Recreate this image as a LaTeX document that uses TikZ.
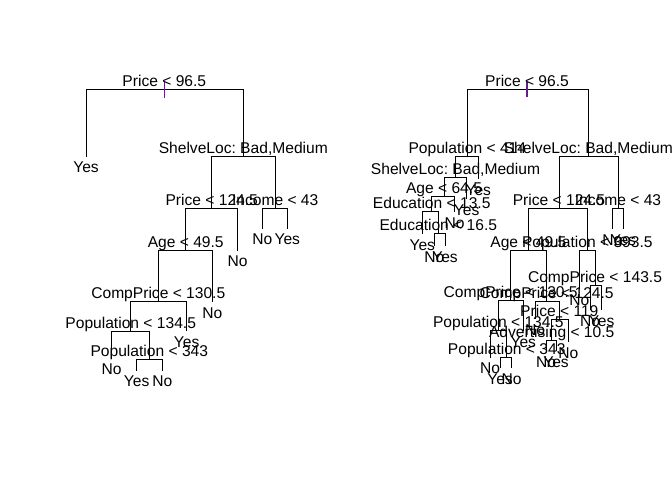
\documentclass[tikz,border=0pt]{standalone}
\usepackage{fontspec}
\setmainfont{Liberation Sans}
\newcommand\treefont{\fontsize{15.6}{18}\selectfont\frenchspacing}
\definecolor{ticklila}{RGB}{100,30,140}
\begin{document}
\begin{tikzpicture}[x=1pt,y=-1pt,line width=1pt,
  split/.style={anchor=base,inner sep=0pt,font=\treefont,yshift=3pt},
  leaf/.style={anchor=base,inner sep=0pt,font=\treefont,yshift=-16pt},
  branch/.style={draw=black,line width=1pt},
  rootmark/.style={draw=ticklila,line width=1.2pt}]
\useasboundingbox (0,0) rectangle (672,480);
% ---------------- left tree ----------------
\coordinate (a0) at (164.3,89.3);
\coordinate (a1) at (86,156.5);
\coordinate (a2) at (243.3,156.7);
\coordinate (a3) at (211.7,208.3);
\coordinate (a4) at (275.2,208.3);
\coordinate (a5) at (237.7,250.7);
\coordinate (a6) at (185.7,250.7);
\coordinate (a7) at (262.3,228.8);
\coordinate (a8) at (287.3,228.8);
\coordinate (a9) at (158.3,301.7);
\coordinate (a10) at (212.3,302);
\coordinate (a11) at (130.7,331.7);
\coordinate (a12) at (186.7,331);
\coordinate (a13) at (111.7,358.5);
\coordinate (a14) at (149.3,359);
\coordinate (a15) at (136.7,370.7);
\coordinate (a16) at (162.3,370.7);
\path[branch] (a0) -| (a1) (a0) -| (a2)
  (a2) -| (a3) (a2) -| (a4)
  (a3) -| (a6) (a3) -| (a5)
  (a4) -| (a7) (a4) -| (a8)
  (a6) -| (a9) (a6) -| (a10)
  (a9) -| (a11) (a9) -| (a12)
  (a11) -| (a13) (a11) -| (a14)
  (a14) -| (a15) (a14) -| (a16);
\draw[rootmark] ([yshift=7.5pt]a0) -- ([yshift=-8.5pt]a0);
\node[split] (a0t) at (a0) {Price < 96.5};
\node[leaf] (a1t) at (a1) {Yes};
\node[split] (a2t) at (a2) {ShelveLoc: Bad,Medium};
\node[split] (a3t) at (a3) {Price < 124.5};
\node[split] (a4t) at (a4) {Income < 43};
\node[leaf] (a5t) at (a5) {No};
\node[split] (a6t) at (a6) {Age < 49.5};
\node[leaf] (a7t) at (a7) {No};
\node[leaf] (a8t) at (a8) {Yes};
\node[split] (a9t) at (a9) {CompPrice < 130.5};
\node[leaf] (a10t) at (a10) {No};
\node[split] (a11t) at (a11) {Population < 134.5};
\node[leaf] (a12t) at (a12) {Yes};
\node[leaf] (a13t) at (a13) {No};
\node[split] (a14t) at (a14) {Population < 343};
\node[leaf] (a15t) at (a15) {Yes};
\node[leaf] (a16t) at (a16) {No};
% ---------------- right tree ----------------
\coordinate (b0) at (527,89);
\coordinate (b1) at (467.3,156);
\coordinate (b2) at (588.3,156);
\coordinate (b3) at (455.5,177.5);
\coordinate (b4) at (478.3,179);
\coordinate (b5) at (444,196.7);
\coordinate (b6) at (466.7,199);
\coordinate (b7) at (431.7,211.7);
\coordinate (b8) at (454.5,212);
\coordinate (b9) at (422.3,234);
\coordinate (b10) at (438.3,233.3);
\coordinate (b11) at (434.3,246);
\coordinate (b12) at (445,246);
\coordinate (b13) at (559,208.3);
\coordinate (b14) at (618,208.3);
\coordinate (b15) at (612.3,229);
\coordinate (b16) at (623.3,229);
\coordinate (b17) at (528.3,250);
\coordinate (b18) at (587.3,250);
\coordinate (b19) at (510.7,300.5);
\coordinate (b20) at (546.7,301);
\coordinate (b21) at (579.3,289);
\coordinate (b22) at (595,285);
\coordinate (b23) at (590,310);
\coordinate (b24) at (601.7,310);
\coordinate (b25) at (498.3,330.5);
\coordinate (b26) at (523.3,331);
\coordinate (b27) at (535,319);
\coordinate (b28) at (559.3,319);
\coordinate (b29) at (490,357.5);
\coordinate (b30) at (506.7,357);
\coordinate (b31) at (500,368);
\coordinate (b32) at (511.7,368);
\coordinate (b33) at (551.7,340);
\coordinate (b34) at (568.3,342);
\coordinate (b35) at (546,351);
\coordinate (b36) at (556,351);
\path[branch] (b0) -| (b1) (b0) -| (b2)
  (b1) -| (b3) (b1) -| (b4)
  (b3) -| (b5) (b3) -| (b6)
  (b5) -| (b7) (b5) -| (b8)
  (b7) -| (b9) (b7) -| (b10)
  (b10) -| (b11) (b10) -| (b12)
  (b2) -| (b13) (b2) -| (b14)
  (b14) -| (b15) (b14) -| (b16)
  (b13) -| (b17) (b13) -| (b18)
  (b17) -| (b19) (b17) -| (b20)
  (b18) -| (b21) (b18) -| (b22)
  (b22) -| (b23) (b22) -| (b24)
  (b19) -| (b25) (b19) -| (b26)
  (b20) -| (b27) (b20) -| (b28)
  (b25) -| (b29) (b25) -| (b30)
  (b30) -| (b31) (b30) -| (b32)
  (b28) -| (b33) (b28) -| (b34)
  (b33) -| (b35) (b33) -| (b36);
\draw[rootmark] ([yshift=7pt]b0) -- ([yshift=-8.3pt]b0);
\node[split] (b0t) at (b0) {Price < 96.5};
\node[split] (b1t) at (b1) {Population < 414};
\node[split] (b2t) at (b2) {ShelveLoc: Bad,Medium};
\node[split] (b3t) at (b3) {ShelveLoc: Bad,Medium};
\node[leaf] (b4t) at (b4) {Yes};
\node[split] (b5t) at (b5) {Age < 64.5};
\node[leaf] (b6t) at (b6) {Yes};
\node[split] (b7t) at (b7) {Education < 13.5};
\node[leaf] (b8t) at (b8) {No};
\node[leaf] (b9t) at (b9) {Yes};
\node[split] (b10t) at (b10) {Education < 16.5};
\node[leaf] (b11t) at (b11) {No};
\node[leaf] (b12t) at (b12) {Yes};
\node[split] (b13t) at (b13) {Price < 124.5};
\node[split] (b14t) at (b14) {Income < 43};
\node[leaf] (b15t) at (b15) {No};
\node[leaf] (b16t) at (b16) {Yes};
\node[split] (b17t) at (b17) {Age < 49.5};
\node[split] (b18t) at (b18) {Population < 393.5};
\node[split] (b19t) at (b19) {CompPrice < 130.5};
\node[split] (b20t) at (b20) {CompPrice < 124.5};
\node[leaf] (b21t) at (b21) {No};
\node[split] (b22t) at (b22) {CompPrice < 143.5};
\node[leaf] (b23t) at (b23) {No};
\node[leaf] (b24t) at (b24) {Yes};
\node[split] (b25t) at (b25) {Population < 134.5};
\node[leaf] (b26t) at (b26) {Yes};
\node[leaf] (b27t) at (b27) {No};
\node[split] (b28t) at (b28) {Price < 119};
\node[leaf] (b29t) at (b29) {No};
\node[split] (b30t) at (b30) {Population < 343};
\node[leaf] (b31t) at (b31) {Yes};
\node[leaf] (b32t) at (b32) {No};
\node[split] (b33t) at (b33) {Advertising < 10.5};
\node[leaf] (b34t) at (b34) {No};
\node[leaf] (b35t) at (b35) {No};
\node[leaf] (b36t) at (b36) {Yes};
\end{tikzpicture}
\end{document}
